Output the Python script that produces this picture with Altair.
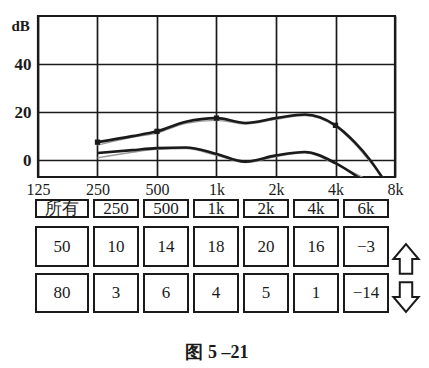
import altair as alt
import pandas as pd

# ---------------- data ----------------
freq_ticks = [125, 250, 500, 1000, 2000, 4000, 8000]
db_ticks = [0, 20, 40]

upper_freq = [250, 375, 500, 700, 1000, 1400, 2000, 2800, 4000, 5000, 6000, 7000]
upper_db = [7.5, 10, 12, 16, 17.5, 15.5, 17.5, 19, 14.5, 7.5, 0, -8]

upper_gray_freq = [250, 375, 500, 700, 1000, 1400, 2000, 2800, 4000, 5000, 6000, 7100]
upper_gray_db = [6.3, 9.5, 11.3, 15.3, 16.6, 15.0, 17.0, 18.6, 14.0, 6.8, -0.8, -8]

lower_freq = [250, 375, 500, 700, 1000, 1400, 2000, 2800, 4000, 5300]
lower_db = [3, 4.2, 5, 5.3, 2.6, -0.6, 2, 3.4, -1.2, -7.5]

lower_gray_freq = [250, 375, 500, 700, 1000, 1400, 2000, 2800, 4000, 5600]
lower_gray_db = [1, 3.3, 4.5, 4.8, 2.0, -1.0, 1.5, 3.0, -1.6, -7.5]

marker_freq = [250, 500, 1000, 4000]
marker_db = [7.5, 12, 17.5, 14.5]

band_labels = ["所有", "250", "500", "1k", "2k", "4k", "6k"]
up_values = ["50", "10", "14", "18", "20", "16", "−3"]
down_values = ["80", "3", "6", "4", "5", "1", "−14"]
arrow_rows = [1, 2]
caption = "图 5 –21"

SERIF = "Times New Roman"
INK = "#1a1a1a"

# ---------------- top chart ----------------
lines_df = pd.concat([
    pd.DataFrame({"f": upper_freq, "db": upper_db, "s": "upper"}),
    pd.DataFrame({"f": lower_freq, "db": lower_db, "s": "lower"}),
])
gray_df = pd.concat([
    pd.DataFrame({"f": upper_gray_freq, "db": upper_gray_db, "s": "upper_g"}),
    pd.DataFrame({"f": lower_gray_freq, "db": lower_gray_db, "s": "lower_g"}),
])
marker_df = pd.DataFrame({"f": marker_freq, "db": marker_db})

xs = alt.Scale(type="log", base=2, domain=[125, 8000], nice=False)
ys = alt.Scale(domain=[-7, 60], nice=False, zero=False)

x_axis = alt.Axis(
    values=freq_ticks,
    labelExpr="datum.value >= 1000 ? (datum.value / 1000) + 'k' : datum.value",
    grid=True, gridColor=INK, gridWidth=1.7, gridOpacity=1,
    domain=False, ticks=False, labelFont=SERIF, labelFontSize=16,
    labelColor=INK, labelPadding=4, labelFlush=False, title=None,
)
y_axis = alt.Axis(
    values=db_ticks, grid=True, gridColor=INK, gridWidth=1.7, gridOpacity=1,
    domain=False, ticks=False, labelFont=SERIF, labelFontSize=17,
    labelFontWeight="bold", labelColor=INK, labelPadding=7, title="dB",
    titleAngle=0, titleFont=SERIF, titleFontSize=15, titleFontWeight="bold",
    titleColor=INK, titleX=-27, titleY=14, titleAlign="left",
    titleBaseline="alphabetic",
)

base_x = alt.X("f:Q", scale=xs, axis=x_axis)
base_y = alt.Y("db:Q", scale=ys, axis=y_axis)

gray = alt.Chart(gray_df).mark_line(
    color="#9a9a9a", strokeWidth=1.3, interpolate="monotone", clip=True
).encode(x=base_x, y=base_y, detail="s:N")

lines = alt.Chart(lines_df).mark_line(
    color=INK, strokeWidth=2.6, interpolate="monotone", clip=True
).encode(x=base_x, y=base_y, detail="s:N")

markers = alt.Chart(marker_df).mark_point(
    shape="square", filled=True, size=28, color=INK, opacity=1
).encode(x=base_x, y=base_y)

top = alt.layer(gray, lines, markers).properties(
    width=357, height=161,
    view=alt.ViewBackground(stroke=INK, strokeWidth=2.2),
)

# ---------------- table ----------------
rows = []
for i, lab in enumerate(band_labels):
    rows.append({"r": 0, "c": i, "t": lab})
for i, v in enumerate(up_values):
    rows.append({"r": 1, "c": i, "t": v})
for i, v in enumerate(down_values):
    rows.append({"r": 2, "c": i, "t": v})
table_df = pd.DataFrame(rows)
arrow_df = pd.DataFrame({"r": arrow_rows})

tx = alt.Scale(domain=[-0.56, 7.16], nice=False, zero=False)
ty = alt.Scale(domain=[4, 124], nice=False, zero=False, reverse=True)

table_base = alt.Chart(table_df).transform_calculate(
    x1="datum.c - (datum.c == 0 ? 0.6 : 0.44)",
    x2="datum.c + 0.44",
    y1="datum.r == 0 ? 1 : (datum.r == 1 ? 28 : 75)",
    y2="datum.r == 0 ? 18 : (datum.r == 1 ? 67 : 113)",
).transform_calculate(
    xm="(datum.x1 + datum.x2) / 2",
    ym="(datum.y1 + datum.y2) / 2",
)

boxes = table_base.mark_rect(
    fill="white", stroke=INK, strokeWidth=2
).encode(
    x=alt.X("x1:Q", scale=tx, axis=None),
    x2="x2:Q",
    y=alt.Y("y1:Q", scale=ty, axis=None),
    y2="y2:Q",
)

texts = table_base.mark_text(
    font=SERIF, fontSize=17, color=INK, baseline="middle", align="center"
).encode(
    x=alt.X("xm:Q", scale=tx, axis=None),
    y=alt.Y("ym:Q", scale=ty, axis=None),
    text="t:N",
)

UP_PATH = "M0,-1 L0.85,0 L0.42,0 L0.42,1 L-0.42,1 L-0.42,0 L-0.85,0 Z"
DOWN_PATH = "M0,1 L0.85,0 L0.42,0 L0.42,-1 L-0.42,-1 L-0.42,0 L-0.85,0 Z"

arrows = alt.Chart(arrow_df).transform_calculate(
    ax="6.8",
    ay="datum.r == 1 ? 60 : 98",
    shp="datum.r == 1 ? '" + UP_PATH + "' : '" + DOWN_PATH + "'",
).mark_point(
    filled=True, fill="white", stroke=INK, strokeWidth=2, size=880, opacity=1
).encode(
    x=alt.X("ax:Q", scale=tx, axis=None),
    y=alt.Y("ay:Q", scale=ty, axis=None),
    shape=alt.Shape("shp:N", scale=None),
)

bottom = alt.layer(boxes, texts, arrows).properties(
    width=386, height=120,
    view=alt.ViewBackground(stroke="transparent", strokeWidth=0),
)

chart = alt.vconcat(top, bottom, spacing=0).properties(
    title=alt.TitleParams(
        caption, orient="bottom", anchor="middle", font=SERIF,
        fontWeight="bold", fontSize=18, color=INK, offset=21,
    ),
    padding={"left": 9, "top": 14, "right": 0, "bottom": 0},
).configure_view(stroke=None).configure(background="white")

chart.save("out.html", embed_options={"renderer": "svg", "actions": False})
